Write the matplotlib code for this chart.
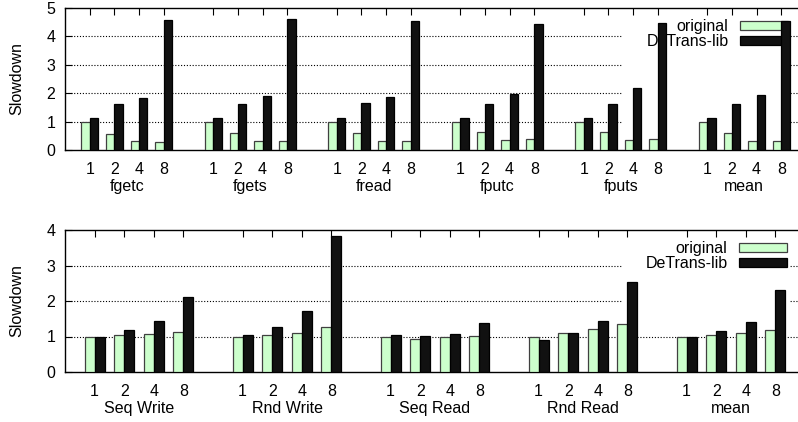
import numpy as np
import matplotlib
matplotlib.use("Agg")
import matplotlib.pyplot as plt
from matplotlib.patches import Rectangle
from matplotlib.transforms import blended_transform_factory

plt.rcParams['font.family'] = ['Liberation Sans', 'DejaVu Sans']
plt.rcParams['font.size'] = 11.5

threads = ['1', '2', '4', '8']

# panel 1: stdio calls
calls = ['fgetc', 'fgets', 'fread', 'fputc', 'fputs', 'mean']
calls_orig = [1.00, 0.58, 0.31, 0.27,
              1.00, 0.61, 0.32, 0.32,
              1.00, 0.61, 0.32, 0.32,
              1.00, 0.62, 0.35, 0.38,
              1.00, 0.62, 0.35, 0.39,
              1.00, 0.60, 0.33, 0.33]
calls_detrans = [1.14, 1.61, 1.83, 4.58,
                 1.14, 1.63, 1.90, 4.61,
                 1.14, 1.64, 1.88, 4.55,
                 1.13, 1.62, 1.96, 4.44,
                 1.13, 1.62, 2.19, 4.48,
                 1.13, 1.62, 1.95, 4.53]

# panel 2: file access patterns
patterns = ['Seq Write', 'Rnd Write', 'Seq Read', 'Rnd Read', 'mean']
pat_orig = [1.00, 1.04, 1.08, 1.14,
            1.00, 1.05, 1.11, 1.28,
            1.00, 0.94, 0.98, 1.01,
            1.00, 1.10, 1.20, 1.35,
            1.00, 1.04, 1.09, 1.19]
pat_detrans = [1.00, 1.19, 1.43, 2.10,
               1.05, 1.27, 1.72, 3.83,
               1.03, 1.01, 1.08, 1.37,
               0.91, 1.11, 1.43, 2.53,
               1.00, 1.15, 1.40, 2.31]

W, H = 798, 422
fig = plt.figure(figsize=(W / 100, H / 100), dpi=100)


def draw_panel(rect, groups, orig, detrans, ymax, blank_bottom):
    ax = fig.add_axes(rect)
    pos = np.array([g * 5 + i for g in range(len(groups)) for i in range(len(threads))])
    w = 0.34
    ax.bar(pos - w / 2, orig, w, color='#ccffcc', edgecolor='#404040',
           linewidth=0.9, zorder=3, label='original')
    ax.bar(pos + w / 2, detrans, w, color='#111111', edgecolor='#000000',
           linewidth=0.9, zorder=3, label='DeTrans-lib')

    ax.set_xlim(-1, len(groups) * 5 - 1)
    ax.set_ylim(0, ymax)
    ax.set_xticks(pos)
    ax.set_xticklabels(threads * len(groups))
    ax.set_yticks(range(ymax + 1))
    ax.tick_params(direction='in', length=5, top=True, right=True,
                   width=0.8, labelsize=11.5)
    ax.tick_params(axis='x', pad=9)
    ax.tick_params(axis='y', pad=7)
    for s in ax.spines.values():
        s.set_linewidth(1.0)

    for y in range(1, ymax):
        ax.axhline(y, color='black', linestyle=(0, (1, 1.6)), linewidth=0.8, zorder=0)

    # white area behind the key
    ax.add_patch(Rectangle((0.753, blank_bottom), 0.225, 1 - blank_bottom,
                           transform=ax.transAxes, facecolor='white',
                           edgecolor='none', zorder=1))

    leg = ax.legend(loc='upper right', bbox_to_anchor=(0.986, 0.98),
                    frameon=False, markerfirst=False, borderpad=0,
                    labelspacing=0.0, handlelength=3.0, handleheight=0.5,
                    handletextpad=0.7, fontsize=11.5)
    leg.set_zorder(2)

    tr = blended_transform_factory(ax.transData, ax.transAxes)
    for g, name in enumerate(groups):
        ax.text(g * 5 + 1.5, -0.26, name, transform=tr, ha='center',
                va='center', fontsize=11.5)

    ax.set_ylabel('Slowdown', fontsize=11.5)
    ax.yaxis.set_label_coords(-0.055, 0.5)
    return ax


draw_panel([65 / W, (H - 150) / H, 741 / W, 142 / H], calls,
           calls_orig, calls_detrans, 5, 0.13)
draw_panel([65 / W, (H - 372) / H, 740 / W, 142 / H], patterns,
           pat_orig, pat_detrans, 4, 0.38)

fig.savefig('out.png', dpi=100)
